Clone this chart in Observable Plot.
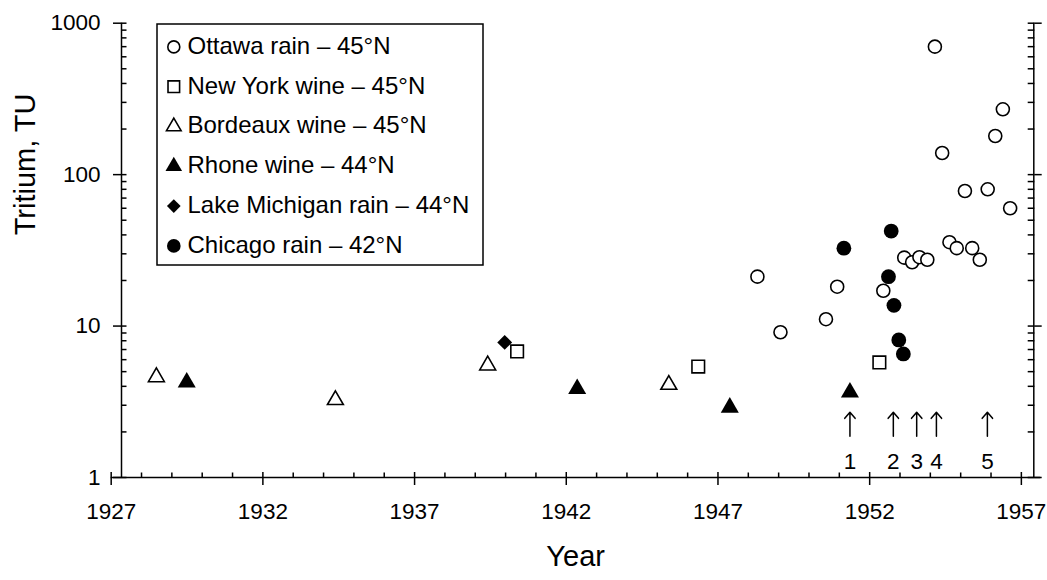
<!DOCTYPE html>
<html><head><meta charset="utf-8">
<script src="https://cdn.jsdelivr.net/npm/d3@7"></script>
<script src="https://cdn.jsdelivr.net/npm/@observablehq/plot@0.6"></script>
<style>
html,body{margin:0;padding:0;background:#fff;}
#chart{width:1047px;height:580px;}
</style>
</head><body><div id="chart"></div>
<script>
// ---- data ----
const ottawaYear = [1948.30, 1949.06, 1950.56, 1950.93, 1952.45, 1953.14, 1953.40, 1953.64, 1953.90, 1954.15, 1954.39, 1954.63, 1954.87, 1955.14, 1955.38, 1955.63, 1955.89, 1956.14, 1956.39, 1956.63];
const ottawaTU   = [21.2, 9.1, 11.1, 18.2, 17.1, 28.3, 26.4, 28.5, 27.4, 700, 139, 35.8, 32.7, 78, 32.7, 27.4, 80, 180, 270, 60];

const newYorkYear = [1940.38, 1946.35, 1952.32];
const newYorkTU   = [6.8, 5.4, 5.75];

const bordeauxYear = [1928.49, 1934.39, 1939.41, 1945.38];
const bordeauxTU   = [4.6, 3.25, 5.5, 4.1];

const rhoneYear = [1929.49, 1942.36, 1947.39, 1951.35];
const rhoneTU   = [4.25, 3.85, 2.9, 3.65];

const michiganYear = [1939.97];
const michiganTU   = [7.8];

const chicagoYear = [1951.15, 1952.62, 1952.71, 1952.80, 1952.96, 1953.11];
const chicagoTU   = [32.7, 21.2, 42.4, 13.7, 8.1, 6.55];

const seriesNames = ["Ottawa rain \u2013 45°N", "New York wine \u2013 45°N", "Bordeaux wine \u2013 45°N", "Rhone wine \u2013 44°N", "Lake Michigan rain \u2013 44°N", "Chicago rain \u2013 42°N"];

const arrowYears  = [1951.35, 1952.78, 1953.55, 1954.20, 1955.88];
const arrowLabels = ["1", "2", "3", "4", "5"];
const arrowBaseTU = 1.87, arrowTipTU = 2.70, arrowLabelTU = 1.27;

const xMajorTicks = [1927, 1932, 1937, 1942, 1947, 1952, 1957];
const xMinorTicks = d3.range(1928, 1957).filter(y => (y - 1927) % 5 !== 0);
const yMajorTicks = [1, 10, 100, 1000];
const yMinorTicks = [2,3,4,5,6,7,8,9,20,30,40,50,60,70,80,90,200,300,400,500,600,700,800,900];
const xDomain = [1927.34, 1957.41];   // y-axes cross here
const xAxisLineEnd = 1957.64;
const yDomain = [1, 1000];

// ---- tables ----
const table = (xs, ys) => xs.map((x, i) => ({year: x, tu: ys[i]}));
const ottawa = table(ottawaYear, ottawaTU);
const newYork = table(newYorkYear, newYorkTU);
const bordeaux = table(bordeauxYear, bordeauxTU);
const rhone = table(rhoneYear, rhoneTU);
const michigan = table(michiganYear, michiganTU);
const chicago = table(chicagoYear, chicagoTU);
const arrows = arrowYears.map((x, i) => ({year: x, label: arrowLabels[i]}));

// ---- styles ----
const styles = [
  {symbol: "circle",   r: 6.5, fill: "white", stroke: "black", sw: 1.6},
  {symbol: "square",   r: 7.1, fill: "white", stroke: "black", sw: 1.6},
  {symbol: "triangle", r: 5.9, fill: "white", stroke: "black", sw: 1.6},
  {symbol: "triangle", r: 6.7, fill: "black", stroke: "none",  sw: 0},
  {symbol: "diamond2", r: 6.7, fill: "black", stroke: "none",  sw: 0},
  {symbol: "circle",   r: 7.4, fill: "black", stroke: "none",  sw: 0}
];
const datasets = [ottawa, newYork, bordeaux, rhone, michigan, chicago];
const FONT = "'Liberation Sans', Arial, Helvetica, sans-serif";
const blank = () => "";

const dotMarks = datasets.map((d, i) => Plot.dot(d, {
  x: "year", y: "tu", symbol: styles[i].symbol, r: styles[i].r,
  fill: styles[i].fill, stroke: styles[i].stroke, strokeWidth: styles[i].sw
}));

const chart = Plot.plot({
  width: 1047, height: 580,
  marginLeft: 121, marginRight: 13.7, marginTop: 22.7, marginBottom: 103,
  x: {type: "linear", domain: xDomain, axis: null},
  y: {type: "log", domain: yDomain, axis: null},
  style: {fontFamily: FONT, fontSize: "22.5px", background: "white", color: "black", overflow: "visible"},
  marks: [
    // axis lines
    Plot.ruleX(xDomain, {y1: yDomain[0], y2: yDomain[1], strokeWidth: 1.5}),
    Plot.ruleY([yDomain[0]], {x1: xMajorTicks[0], x2: xAxisLineEnd, strokeWidth: 1.5}),
    // x axis
    Plot.axisX({ticks: xMajorTicks, tickSize: 8, tickPadding: 18, tickFormat: "d", label: null, strokeWidth: 1.5, fontSize: 22.5}),
    Plot.axisX({ticks: xMajorTicks, tickSize: -5, tickFormat: blank, label: null, strokeWidth: 1.5}),
    Plot.axisX({ticks: xMinorTicks, tickSize: -4.5, tickFormat: blank, label: null, strokeWidth: 1.5}),
    // left y axis
    Plot.axisY({anchor: "left", ticks: yMajorTicks, tickSize: 8, tickPadding: 13, tickFormat: d => String(d), label: null, strokeWidth: 1.5, fontSize: 22.5}),
    Plot.axisY({anchor: "left", ticks: yMajorTicks.concat(yMinorTicks), tickSize: -5.5, tickFormat: blank, label: null, strokeWidth: 1.5}),
    // right y axis
    Plot.axisY({anchor: "right", ticks: yMajorTicks, tickSize: 7.4, tickFormat: blank, label: null, strokeWidth: 1.5}),
    Plot.axisY({anchor: "right", ticks: yMajorTicks.concat(yMinorTicks), tickSize: -6.6, tickFormat: blank, label: null, strokeWidth: 1.5}),
    // axis titles
    Plot.text(["Tritium, TU"], {frameAnchor: "left", rotate: -90, dx: -95.3, dy: -15, fontSize: 29}),
    Plot.text(["Year"], {frameAnchor: "bottom", dx: -2, dy: 88.4, fontSize: 29}),
    // data
    ...dotMarks,
    // event arrows
    Plot.arrow(arrows, {x: "year", y1: arrowBaseTU, y2: arrowTipTU, headLength: 9, headAngle: 80, strokeWidth: 1.5}),
    Plot.text(arrows, {x: "year", y: arrowLabelTU, text: "label", fontSize: 22.5})
  ]
});
document.getElementById("chart").appendChild(chart);

// ---- legend (inside the plot area, top-left) ----
const svg = d3.select(chart);
const lg = svg.append("g").attr("font-family", FONT).attr("font-size", 24).attr("text-anchor", "start");
lg.append("rect").attr("x", 157).attr("y", 24).attr("width", 326).attr("height", 241)
  .attr("fill", "white").attr("stroke", "black").attr("stroke-width", 1.5);
const d3sym = {circle: d3.symbolCircle, square: d3.symbolSquare, triangle: d3.symbolTriangle, diamond2: d3.symbolDiamond2};
seriesNames.forEach((name, i) => {
  const base = 53.7 + i * 39.8;
  const st = styles[i];
  const lr = st.r * 0.92;
  lg.append("path")
    .attr("transform", `translate(173.8,${base - 6.8})`)
    .attr("d", d3.symbol(d3sym[st.symbol], lr * lr * Math.PI)())
    .attr("fill", st.fill).attr("stroke", st.stroke).attr("stroke-width", st.sw);
  lg.append("text").attr("x", 187.5).attr("y", base).attr("text-anchor", "start").text(name);
});
</script>
</body></html>
